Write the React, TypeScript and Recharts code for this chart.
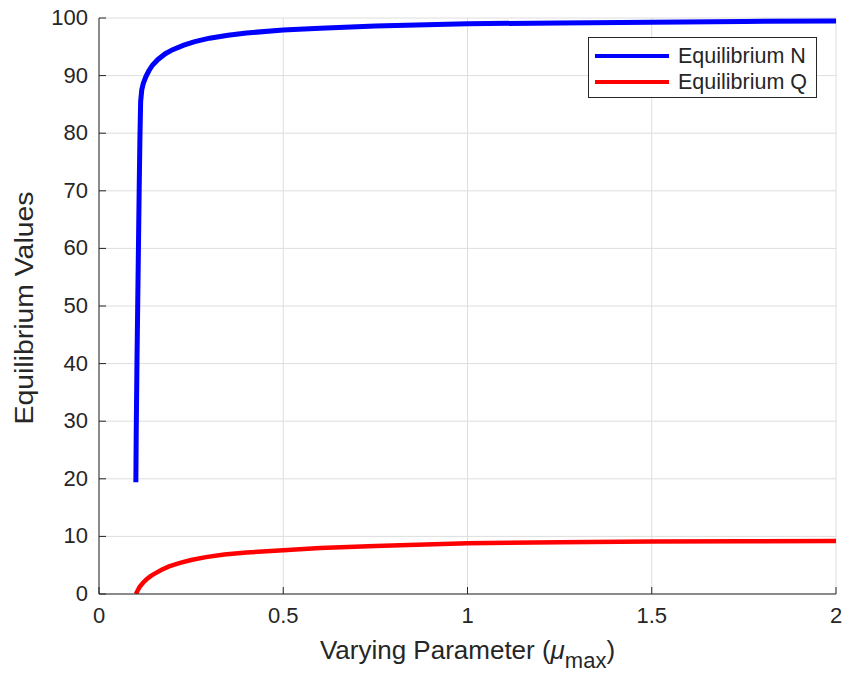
import { LineChart, Line, XAxis, YAxis, CartesianGrid, Legend, Label } from 'recharts';

// equilibrium N vs mu_max
const muN = [0.1, 0.101, 0.103, 0.105, 0.107, 0.109, 0.111, 0.113, 0.116, 0.12, 0.127, 0.135, 0.145, 0.16, 0.18, 0.2, 0.23, 0.26, 0.3, 0.35, 0.4, 0.5, 0.6, 0.75, 1.0, 1.25, 1.5, 1.75, 2.0];
const eqN = [19.4, 28, 40, 50, 60, 70, 79, 85.5, 87.5, 88.6, 89.8, 90.8, 91.8, 92.8, 93.8, 94.5, 95.3, 95.9, 96.5, 97.0, 97.4, 97.9, 98.2, 98.6, 99.0, 99.15, 99.25, 99.4, 99.5];

// equilibrium Q vs mu_max
const muQ = [0.1, 0.105, 0.11, 0.12, 0.13, 0.14, 0.15, 0.17, 0.19, 0.22, 0.25, 0.29, 0.34, 0.4, 0.5, 0.6, 0.75, 1.0, 1.25, 1.5, 1.75, 2.0];
const eqQ = [0, 0.6, 1.2, 2.0, 2.6, 3.1, 3.5, 4.2, 4.8, 5.4, 5.9, 6.4, 6.85, 7.2, 7.6, 8.0, 8.35, 8.8, 9.0, 9.1, 9.15, 9.2];

const xTicks = [0, 0.5, 1, 1.5, 2];
const yTicks = [0, 10, 20, 30, 40, 50, 60, 70, 80, 90, 100];

const seriesN = muN.map((x, i) => ({ x, y: eqN[i] }));
const seriesQ = muQ.map((x, i) => ({ x, y: eqQ[i] }));

const FONT = '"Liberation Sans", Arial, Helvetica, sans-serif';
const AXIS = '#262626';
const TICK_MARGIN = 11;

const XTick = ({ x, y, payload }: any) => (
  <g>
    <line x1={x} x2={x} y1={y - TICK_MARGIN} y2={y - TICK_MARGIN - 7} stroke={AXIS} />
    <text x={x} y={y + 18} textAnchor="middle" fill={AXIS} fontSize={22} fontFamily={FONT}>
      {payload.value}
    </text>
  </g>
);

const YTick = ({ x, y, payload }: any) => (
  <g>
    <line x1={x + TICK_MARGIN} x2={x + TICK_MARGIN + 7} y1={y} y2={y} stroke={AXIS} />
    <text x={x} y={y + 7} textAnchor="end" fill={AXIS} fontSize={22} fontFamily={FONT}>
      {payload.value}
    </text>
  </g>
);

const LegendBox = () => (
  <div
    style={{
      border: '1px solid #262626',
      background: '#fff',
      width: 229,
      height: 61,
      boxSizing: 'border-box',
      fontFamily: FONT,
      fontSize: 21.5,
      color: '#262626',
      padding: '5px 0 0 6px',
    }}
  >
    {[
      { name: 'Equilibrium N', color: '#0000ff' },
      { name: 'Equilibrium Q', color: '#ff0000' },
    ].map((it) => (
      <div key={it.name} style={{ display: 'flex', alignItems: 'center', height: 26 }}>
        <div style={{ width: 74, height: 4, background: it.color, marginRight: 9 }} />
        <span>{it.name}</span>
      </div>
    ))}
  </div>
);

export default function App() {
  return (
    <div style={{ position: 'absolute', left: 0, top: 0, background: '#fff' }}>
      <LineChart width={842} height={678} margin={{ top: 18, right: 6, bottom: 24, left: 29 }}>
        <CartesianGrid stroke="#dedede" />
        <XAxis
          type="number"
          dataKey="x"
          domain={[0, 2]}
          ticks={xTicks}
          allowDataOverflow
          height={60}
          stroke={AXIS}
          tickSize={0}
          tickMargin={TICK_MARGIN}
          tick={<XTick />}
        >
          <Label
            content={({ viewBox }: any) => (
              <text
                x={viewBox.x + viewBox.width / 2}
                y={659}
                textAnchor="middle"
                fill={AXIS}
                fontSize={26}
                fontFamily={FONT}
              >
                Varying Parameter (<tspan fontStyle="italic">μ</tspan>
                <tspan dy={9} fontSize={22}>max</tspan>
                <tspan dy={-9}>)</tspan>
              </text>
            )}
          />
        </XAxis>
        <YAxis
          type="number"
          domain={[0, 100]}
          ticks={yTicks}
          allowDataOverflow
          width={70}
          stroke={AXIS}
          tickSize={0}
          tickMargin={TICK_MARGIN}
          tick={<YTick />}
        >
          <Label
            content={({ viewBox }: any) => {
              const cy = viewBox.y + viewBox.height / 2 + 2;
              return (
                <text
                  x={33}
                  y={cy}
                  transform={`rotate(-90, 33, ${cy})`}
                  textAnchor="middle"
                  fill={AXIS}
                  fontSize={25}
                  textLength={233}
                  lengthAdjust="spacingAndGlyphs"
                  fontFamily={FONT}
                >
                  Equilibrium Values
                </text>
              );
            }}
          />
        </YAxis>
        <Legend
          layout="vertical"
          align="center"
          verticalAlign="middle"
          content={<LegendBox />}
          wrapperStyle={{ position: 'absolute', left: 588, top: 37, width: 229, height: 61 }}
        />
        <Line
          data={seriesN}
          dataKey="y"
          name="Equilibrium N"
          stroke="#0000ff"
          strokeWidth={5}
          dot={false}
          type="linear"
          isAnimationActive={false}
        />
        <Line
          data={seriesQ}
          dataKey="y"
          name="Equilibrium Q"
          stroke="#ff0000"
          strokeWidth={4.5}
          dot={false}
          type="linear"
          isAnimationActive={false}
        />
      </LineChart>
    </div>
  );
}
